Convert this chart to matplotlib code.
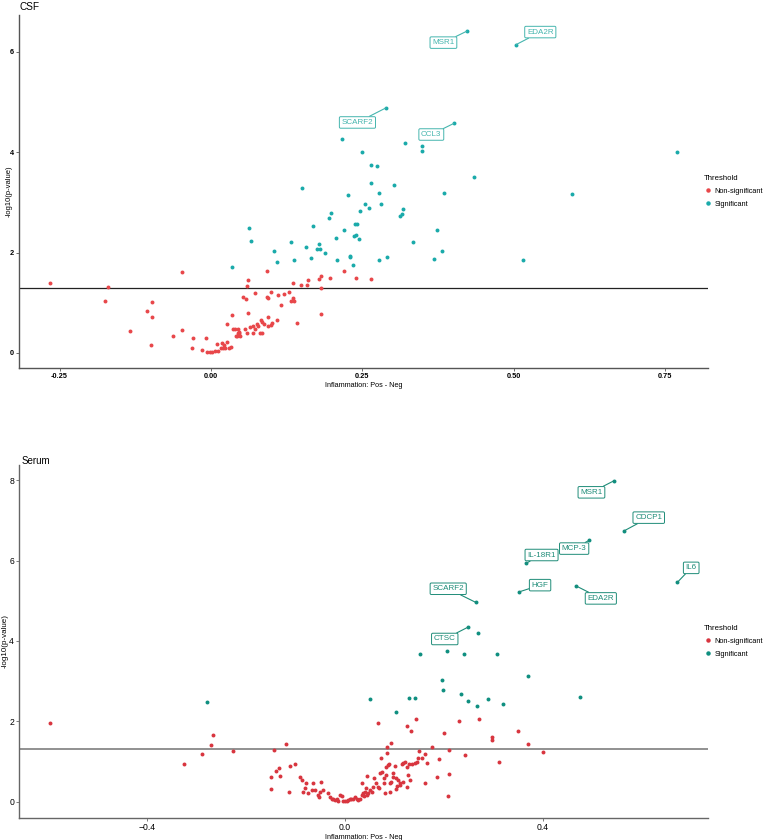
import matplotlib
matplotlib.use('Agg')
from matplotlib import pyplot as plt
from matplotlib.lines import Line2D

plt.rcParams['font.family'] = ['Liberation Sans', 'DejaVu Sans']

# CSF panel, non-significant proteins (x = Pos - Neg, y = -log10 p)
csf_ns_x = [-0.266, -0.175, -0.170, -0.133, -0.106, -0.098, -0.098, -0.099, -0.062, -0.047,
	-0.047, -0.029, -0.031, -0.014, -0.008, 0.010, 0.018, 0.022, 0.026, 0.024,
	0.020, 0.017, 0.030, 0.033, 0.012, 0.007, 0.002, -0.002, -0.006, 0.034,
	0.062, 0.026, 0.036, 0.039, 0.045, 0.044, 0.046, 0.043, 0.048, 0.057,
	0.060, 0.065, 0.069, 0.072, 0.076, 0.078, 0.083, 0.084, 0.088, 0.094,
	0.094, 0.100, 0.101, 0.109, 0.070, 0.081, 0.085, 0.059, 0.053, 0.058,
	0.072, 0.092, 0.094, 0.100, 0.110, 0.121, 0.129, 0.132, 0.137, 0.135,
	0.116, 0.136, 0.148, 0.159, 0.182, 0.182, 0.142, 0.092, 0.061, 0.161,
	0.178, 0.182, 0.196, 0.220, 0.240, 0.264, 0.041, 0.046, 0.047]
csf_ns_y = [1.40, 1.03, 1.31, 0.44, 0.83, 1.02, 0.72, 0.15, 0.33, 0.45,
	1.61, 0.29, 0.10, 0.05, 0.29, 0.17, 0.19, 0.15, 0.22, 0.09,
	0.09, 0.10, 0.10, 0.11, 0.04, 0.03, 0.02, 0.01, 0.01, 0.76,
	0.80, 0.58, 0.47, 0.47, 0.47, 0.39, 0.40, 0.34, 0.34, 0.47,
	0.39, 0.51, 0.54, 0.47, 0.57, 0.53, 0.66, 0.61, 0.57, 0.72,
	0.54, 0.56, 0.59, 0.65, 0.39, 0.39, 0.40, 1.33, 1.11, 1.08,
	1.19, 1.12, 1.09, 1.22, 1.16, 1.18, 1.21, 1.04, 1.04, 1.10,
	0.96, 1.40, 1.36, 1.36, 1.30, 0.78, 0.60, 1.64, 1.45, 1.46,
	1.48, 1.53, 1.49, 1.63, 1.49, 1.47, 0.33, 0.35, 0.41]

# CSF panel, significant proteins
csf_sig_x = [0.035, 0.063, 0.066, 0.104, 0.109, 0.132, 0.138, 0.151, 0.157, 0.166,
	0.169, 0.175, 0.180, 0.179, 0.188, 0.195, 0.198, 0.206, 0.209, 0.216,
	0.220, 0.227, 0.229, 0.230, 0.234, 0.236, 0.238, 0.242, 0.239, 0.245,
	0.247, 0.249, 0.254, 0.261, 0.264, 0.265, 0.274, 0.277, 0.277, 0.281,
	0.290, 0.302, 0.312, 0.315, 0.318, 0.321, 0.348, 0.349, 0.769, 0.435,
	0.385, 0.597, 0.374, 0.333, 0.382, 0.369, 0.515]
csf_sig_y = [1.71, 2.48, 2.22, 2.04, 1.81, 2.20, 1.86, 3.29, 2.10, 1.89,
	2.52, 2.06, 2.06, 2.17, 1.99, 2.68, 2.78, 2.29, 1.85, 4.26,
	2.44, 3.15, 1.91, 1.93, 1.76, 2.32, 2.57, 2.56, 2.34, 2.26,
	2.82, 4.01, 2.97, 2.88, 3.39, 3.75, 3.73, 3.19, 1.85, 2.96,
	1.91, 3.35, 2.73, 2.76, 2.86, 4.19, 4.12, 4.03, 4.00, 3.51,
	3.19, 3.17, 2.45, 2.20, 2.03, 1.87, 1.85]

# CSF panel, labelled proteins
csf_lab = ['SCARF2', 'MSR1', 'EDA2R', 'CCL3']
csf_lab_x = [0.289, 0.423, 0.504, 0.401]
csf_lab_y = [4.88, 6.41, 6.14, 4.57]

# Serum panel, non-significant proteins
ser_ns_x = [-0.597, -0.325, -0.289, -0.271, -0.267, -0.226, -0.150, -0.150, -0.144, -0.140,
	-0.133, -0.131, -0.119, -0.114, -0.111, -0.101, -0.091, -0.088, -0.079, -0.064,
	-0.049, -0.081, -0.084, -0.074, -0.067, -0.061, -0.054, -0.052, -0.051, -0.044,
	-0.034, -0.030, -0.027, -0.024, -0.020, -0.017, -0.014, -0.010, -0.007, -0.003,
	0.000, 0.004, 0.007, 0.010, 0.013, 0.017, 0.020, 0.024, 0.027, 0.030,
	0.034, 0.036, 0.038, 0.040, 0.042, 0.045, 0.047, 0.051, 0.054, 0.034,
	0.045, 0.057, 0.059, 0.063, 0.066, 0.068, 0.071, 0.072, 0.074, 0.078,
	0.079, 0.081, 0.083, 0.084, 0.086, 0.088, 0.090, 0.091, 0.092, 0.094,
	0.097, 0.098, 0.101, 0.103, 0.104, 0.106, 0.108, 0.111, 0.115, 0.117,
	0.118, 0.122, 0.125, 0.126, 0.128, 0.130, 0.135, 0.141, 0.146, 0.148,
	0.086, 0.094, 0.066, 0.143, 0.125, 0.134, 0.200, 0.231, 0.271, 0.298,
	0.298, 0.351, 0.370, 0.400, 0.312, 0.244, 0.211, 0.176, 0.190, 0.163,
	0.155, 0.150, 0.167, 0.187, 0.211, 0.162, 0.208, 0.131, 0.111]
ser_ns_y = [1.95, 0.94, 1.19, 1.41, 1.65, 1.27, 0.31, 0.61, 1.29, 0.77,
	0.85, 0.64, 1.43, 0.25, 0.89, 0.94, 0.61, 0.54, 0.46, 0.46,
	0.50, 0.33, 0.25, 0.22, 0.29, 0.29, 0.17, 0.12, 0.25, 0.29,
	0.22, 0.12, 0.06, 0.08, 0.04, 0.06, 0.03, 0.17, 0.14, 0.01,
	0.01, 0.03, 0.04, 0.06, 0.08, 0.06, 0.11, 0.08, 0.04, 0.08,
	0.17, 0.21, 0.14, 0.25, 0.33, 0.17, 0.21, 0.29, 0.25, 0.47,
	0.64, 0.37, 0.58, 0.46, 0.37, 0.33, 0.71, 1.10, 0.75, 0.58,
	0.46, 0.22, 0.66, 0.87, 1.22, 0.91, 0.94, 0.46, 0.25, 0.50,
	0.61, 0.71, 0.89, 0.31, 0.58, 0.39, 0.54, 0.46, 0.94, 0.50,
	0.97, 0.99, 0.87, 0.37, 0.66, 0.94, 0.95, 0.97, 0.99, 1.08,
	1.37, 1.45, 1.97, 2.07, 1.89, 1.77, 1.70, 2.01, 2.05, 1.62,
	1.53, 1.75, 1.43, 1.24, 1.00, 1.17, 1.29, 1.35, 1.06, 1.19,
	1.08, 1.27, 0.97, 0.61, 0.69, 0.46, 0.14, 0.55, 0.42]

# Serum panel, significant proteins
ser_sig_x = [-0.279, 0.051, 0.103, 0.130, 0.141, 0.152, 0.196, 0.199, 0.206, 0.234,
	0.240, 0.250, 0.268, 0.269, 0.289, 0.308, 0.319, 0.370, 0.475]
ser_sig_y = [2.49, 2.56, 2.23, 2.59, 2.59, 3.67, 3.03, 2.78, 3.76, 2.68,
	3.67, 2.51, 2.39, 4.19, 2.55, 3.67, 2.42, 3.12, 2.60]

# Serum panel, labelled proteins
ser_lab = ['MSR1', 'CDCP1', 'MCP-3', 'IL-18R1', 'IL6', 'HGF', 'EDA2R', 'SCARF2', 'CTSC']
ser_lab_x = [0.545, 0.565, 0.495, 0.366, 0.673, 0.352, 0.468, 0.265, 0.250]
ser_lab_y = [7.99, 6.74, 6.51, 5.93, 5.46, 5.22, 5.37, 4.96, 4.35]

# where each label box sits relative to its point (data units)
csf_nudge = [(-0.047, -0.29), (-0.039, -0.23), (0.040, 0.25), (-0.037, -0.22)]
ser_nudge = [(-0.046, -0.29), (0.050, 0.33), (-0.031, -0.21), (0.032, 0.21), (0.028, 0.36),
	(0.043, 0.17), (0.050, -0.31), (-0.056, 0.34), (-0.048, -0.30)]


def draw_panel(ax, ns_x, ns_y, sig_x, sig_y, lab, lab_x, lab_y, nudge, red, teal,
		labcol, spine, tick_fs, ylab_fs, ylab_x, xticks, xlim, ylim, yticks,
		hline_col, hline_lw):
	ax.scatter(ns_x, ns_y, s=8, color=red, linewidths=0, zorder=3)
	ax.scatter(sig_x + lab_x, sig_y + lab_y, s=8, color=teal, linewidths=0, zorder=3)
	ax.axhline(1.30103, color=hline_col, lw=hline_lw, zorder=2)
	for name, x, y, (dx, dy) in zip(lab, lab_x, lab_y, nudge):
		ax.annotate(name, xy=(x, y), xytext=(x + dx, y + dy), fontsize=5.8, color=labcol,
			ha='center', va='center', zorder=4,
			bbox=dict(boxstyle='round,pad=0.28,rounding_size=0.15', fc='white',
				ec=labcol, lw=0.7),
			arrowprops=dict(arrowstyle='-', color=labcol, lw=0.8, shrinkA=0, shrinkB=0))
	ax.set_xlim(*xlim)
	ax.set_ylim(*ylim)
	ax.set_xticks(xticks)
	ax.set_yticks(yticks)
	for s in ['top', 'right']:
		ax.spines[s].set_visible(False)
	for s in ['left', 'bottom']:
		ax.spines[s].set_color(spine)
		ax.spines[s].set_linewidth(1.0)
	ax.tick_params(length=2, width=0.6, color=spine, labelsize=tick_fs, pad=1.5)
	ax.set_ylabel('-log10(p-value)', fontsize=ylab_fs)
	ax.yaxis.set_label_coords(ylab_x, 0.5)
	ax.set_xlabel('Inflammation: Pos - Neg', fontsize=5.2, labelpad=1.5)
	handles = [Line2D([], [], ls='', marker='o', ms=2.2, color=red),
		Line2D([], [], ls='', marker='o', ms=2.2, color=teal)]
	leg = ax.legend(handles, ['Non-significant', 'Significant'], title='Threshold',
		loc='center left', bbox_to_anchor=(0.99, 0.5), frameon=False, fontsize=5.3,
		title_fontsize=5.6, handlelength=1.0, handletextpad=0.4, labelspacing=0.8,
		alignment='left', borderaxespad=0)
	return leg


fig = plt.figure(figsize=(7.82, 8.40), dpi=100)

ax1 = fig.add_axes([19 / 782, 1 - 368 / 840, 689 / 782, 353 / 840])
draw_panel(ax1, csf_ns_x, csf_ns_y, csf_sig_x, csf_sig_y, csf_lab, csf_lab_x, csf_lab_y,
	csf_nudge, '#E8474A', '#1AAAAA', '#45B5AE', '#555555', 5.3, 5.5, -0.009,
	[-0.25, 0.0, 0.25, 0.5, 0.75], (-0.317, 0.821), (-0.30, 6.73), [0, 2, 4, 6],
	'#222222', 0.9)
ax1.set_xticklabels(['-0.25', '0.00', '0.25', '0.50', '0.75'], fontweight='bold')
ax1.set_yticklabels(['0', '2', '4', '6'], fontweight='bold')
fig.text(20 / 782, 1 - 7 / 840, 'CSF', fontsize=7.2, va='center', ha='left')

ax2 = fig.add_axes([19 / 782, 1 - 818 / 840, 689 / 782, 353 / 840])
draw_panel(ax2, ser_ns_x, ser_ns_y, ser_sig_x, ser_sig_y, ser_lab, ser_lab_x, ser_lab_y,
	ser_nudge, '#D8353F', '#0F8F80', '#1E8C78', '#666666', 6.2, 5.8, -0.0155,
	[-0.4, 0.0, 0.4], (-0.66, 0.735), (-0.405, 8.38), [0, 2, 4, 6, 8],
	'#888888', 1.3)
fig.text(22 / 782, 1 - 461 / 840, 'Serum', fontsize=7, va='center', ha='left')

fig.savefig('out.png', dpi=100)
